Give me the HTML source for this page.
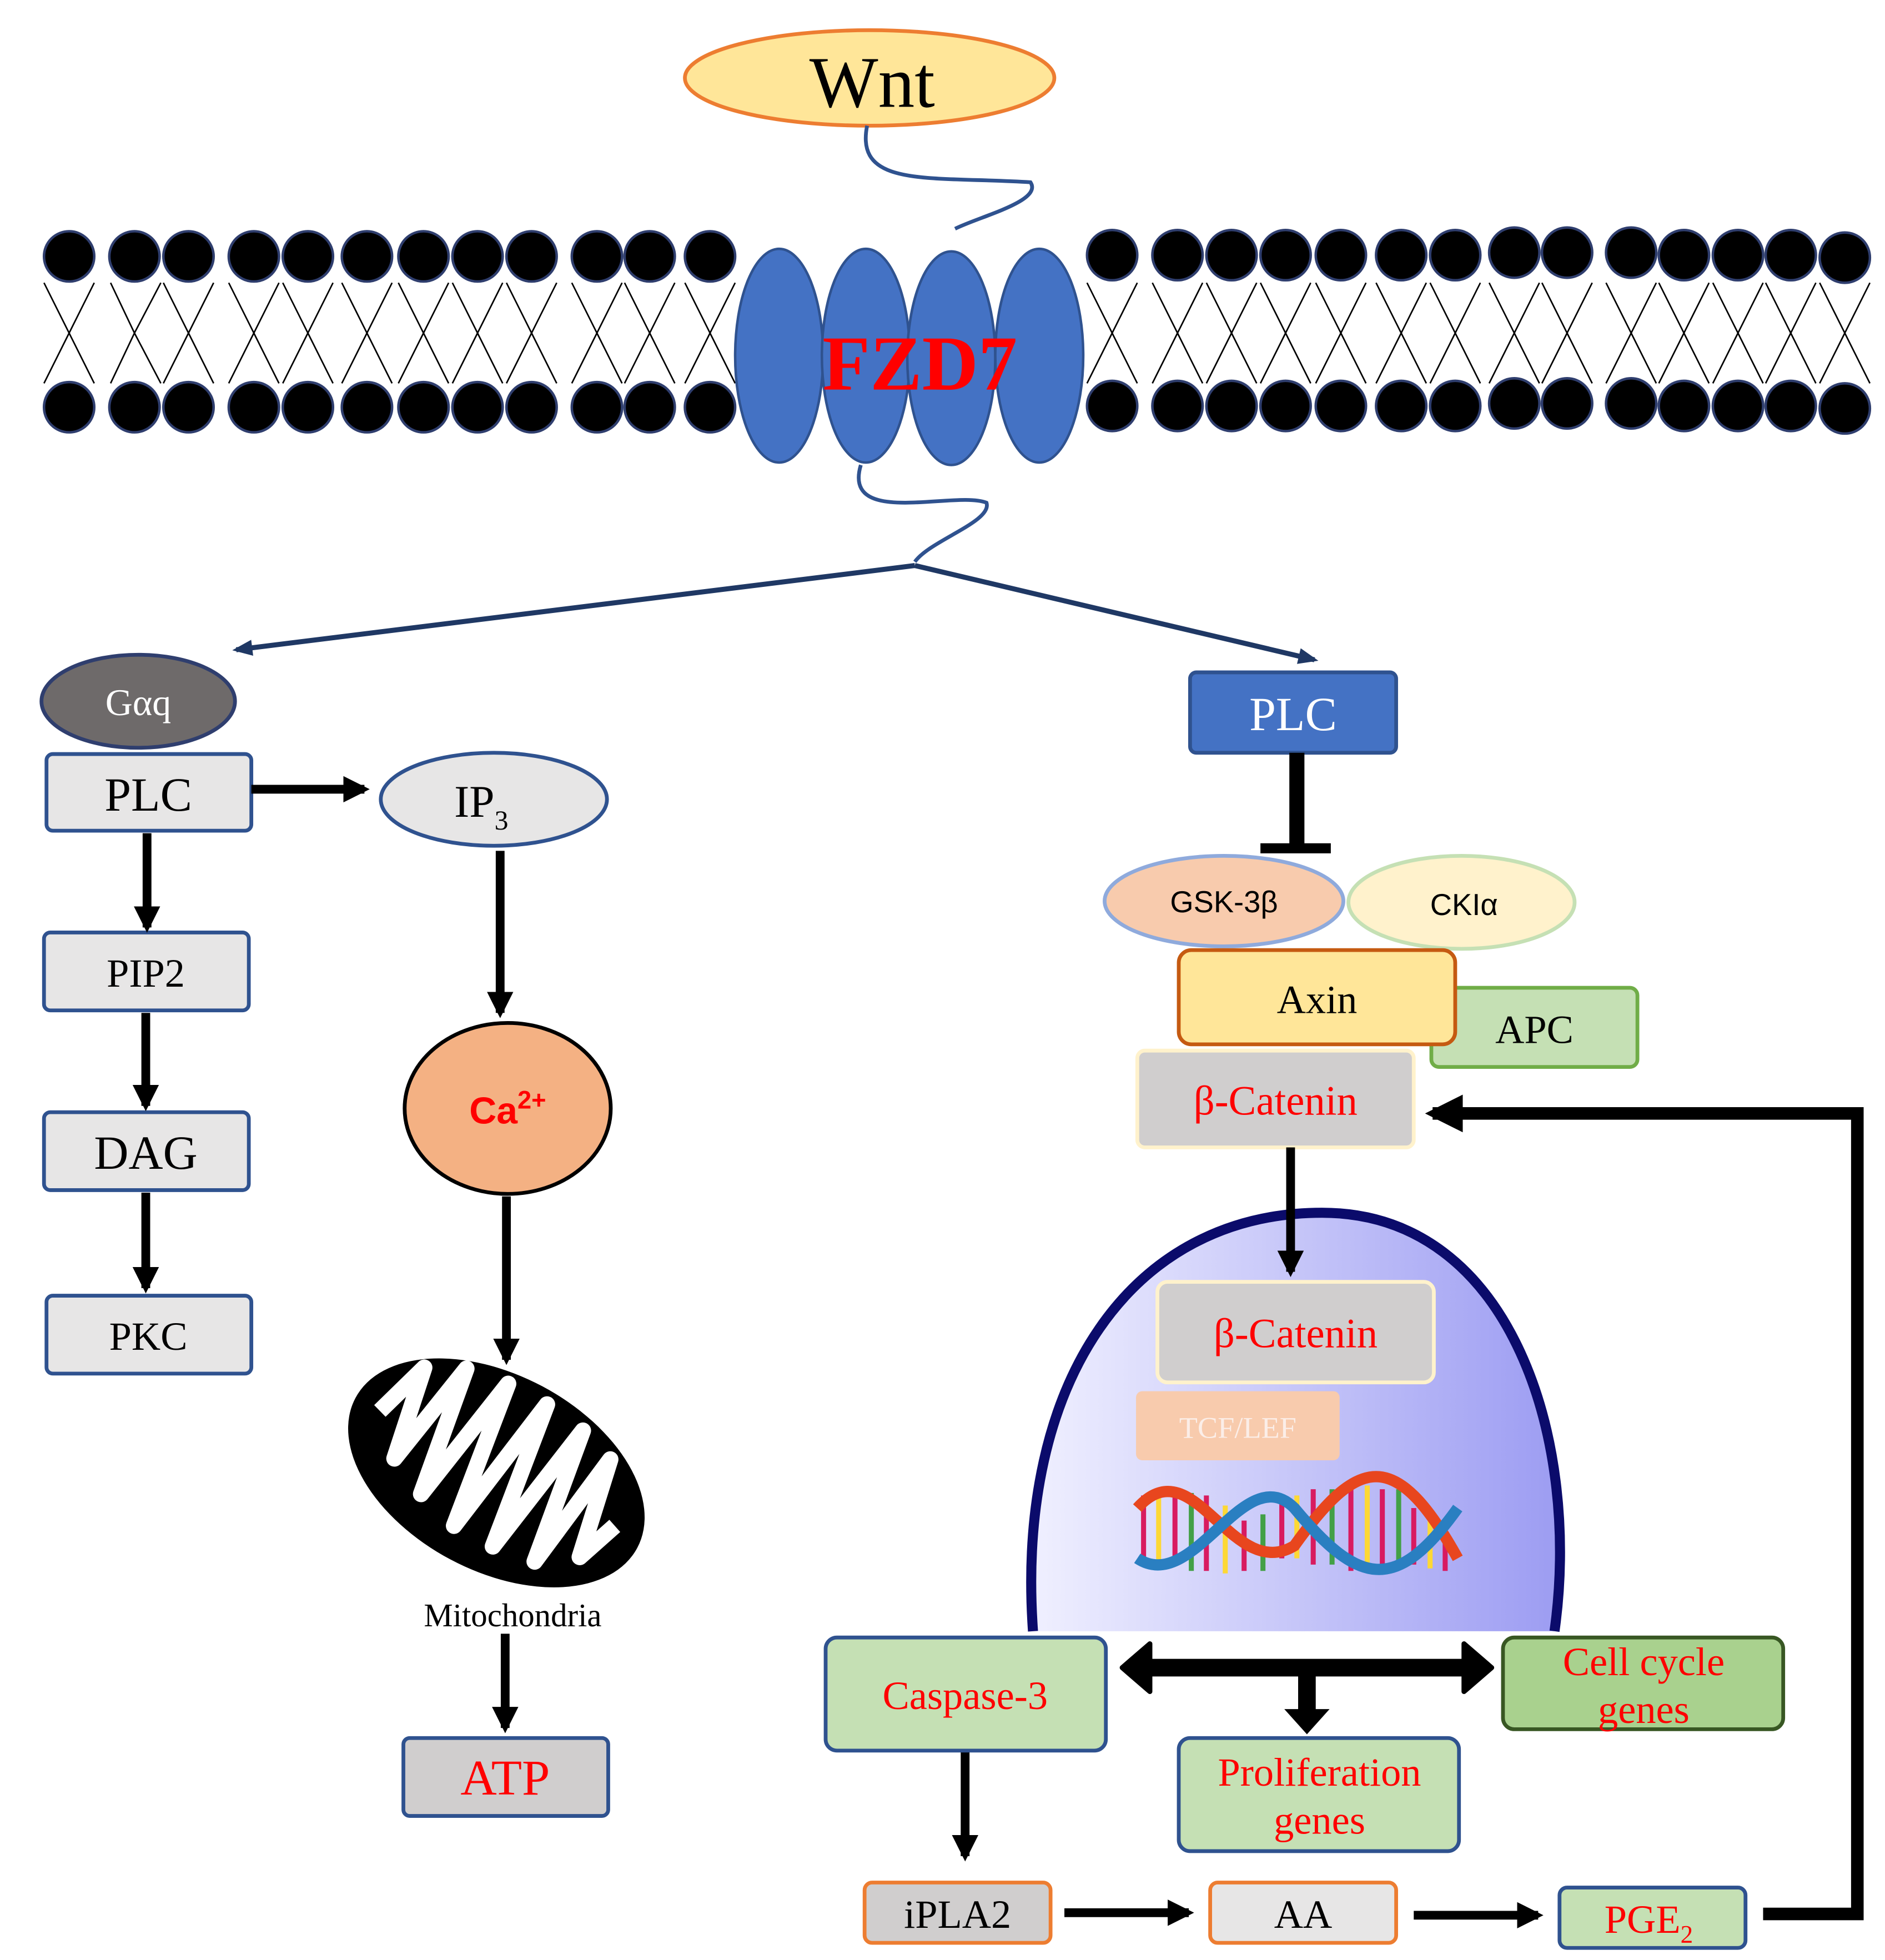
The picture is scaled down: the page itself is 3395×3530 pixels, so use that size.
<!DOCTYPE html>
<html><head><meta charset="utf-8"><style>html,body{margin:0;padding:0;background:#fff}svg{display:block}</style></head>
<body>
<svg width="3395" height="3530" viewBox="0 0 1500 1559.6" xmlns="http://www.w3.org/2000/svg" font-family="'Liberation Serif', serif">
<defs>
<marker id="ah" viewBox="0 0 10 10" refX="8" refY="5" markerWidth="3" markerHeight="3" orient="auto-start-reverse"><path d="M0,0L10,5L0,10z" fill="#000"/></marker>
<marker id="an" viewBox="0 0 10 10" refX="8" refY="5" markerWidth="4" markerHeight="4" orient="auto"><path d="M0,1L10,5L0,9z" fill="#1F3864"/></marker>
<linearGradient id="ng" x1="0" x2="1" y1="0" y2="0"><stop offset="0" stop-color="#f0f0ff"/><stop offset="1" stop-color="#9c9cf2"/></linearGradient>
</defs>
<g id="mem" stroke="#000" stroke-width="1.2" fill="none">
<path d="M35,225L55,265L75,225M88,225L107,265L128,225M130,225L150,265L170,225M182,225L202,265L222,225M225,225L245,265L265,225M272,225L292,265L312,225M317,225L337,265L357,225M360,225L380,265L400,225M403,225L423,265L443,225M455,225L475,265L495,225M497,225L517,265L537,225M545,225L565,265L585,225"/>
<path d="M35,305L55,265L75,305M88,305L107,265L128,305M130,305L150,265L170,305M182,305L202,265L222,305M225,305L245,265L265,305M272,305L292,265L312,305M317,305L337,265L357,305M360,305L380,265L400,305M403,305L423,265L443,305M455,305L475,265L495,305M497,305L517,265L537,305M545,305L565,265L585,305"/>
<path d="M865,225L885,265L905,225M917,225L937,265L957,225M960,225L980,265L1000,225M1003,225L1023,265L1043,225M1047,225L1067,265L1087,225M1095,225L1115,265L1135,225M1138,225L1158,265L1178,225M1185,225L1205,265L1225,225M1227,225L1247,265L1267,225M1278,225L1298,265L1318,225M1320,225L1340,265L1360,225M1363,225L1383,265L1403,225M1405,225L1425,265L1445,225M1448,225L1468,265L1488,225"/>
<path d="M865,305L885,265L905,305M917,305L937,265L957,305M960,305L980,265L1000,305M1003,305L1023,265L1043,305M1047,305L1067,265L1087,305M1095,305L1115,265L1135,305M1138,305L1158,265L1178,305M1185,305L1205,265L1225,305M1227,305L1247,265L1267,305M1278,305L1298,265L1318,305M1320,305L1340,265L1360,305M1363,305L1383,265L1403,305M1405,305L1425,265L1445,305M1448,305L1468,265L1488,305"/>
</g>
<g fill="#000" stroke="#2F3E6E" stroke-width="2">
<circle cx="55" cy="204" r="20"/><circle cx="107" cy="204" r="20"/><circle cx="150" cy="204" r="20"/><circle cx="202" cy="204" r="20"/><circle cx="245" cy="204" r="20"/><circle cx="292" cy="204" r="20"/><circle cx="337" cy="204" r="20"/><circle cx="380" cy="204" r="20"/><circle cx="423" cy="204" r="20"/><circle cx="475" cy="204" r="20"/><circle cx="517" cy="204" r="20"/><circle cx="565" cy="204" r="20"/>
<circle cx="55" cy="324" r="20"/><circle cx="107" cy="324" r="20"/><circle cx="150" cy="324" r="20"/><circle cx="202" cy="324" r="20"/><circle cx="245" cy="324" r="20"/><circle cx="292" cy="324" r="20"/><circle cx="337" cy="324" r="20"/><circle cx="380" cy="324" r="20"/><circle cx="423" cy="324" r="20"/><circle cx="475" cy="324" r="20"/><circle cx="517" cy="324" r="20"/><circle cx="565" cy="324" r="20"/>
<circle cx="885" cy="203" r="20"/><circle cx="937" cy="203" r="20"/><circle cx="980" cy="203" r="20"/><circle cx="1023" cy="203" r="20"/><circle cx="1067" cy="203" r="20"/><circle cx="1115" cy="203" r="20"/><circle cx="1158" cy="203" r="20"/><circle cx="1205" cy="201" r="20"/><circle cx="1247" cy="201" r="20"/><circle cx="1298" cy="201" r="20"/><circle cx="1340" cy="203" r="20"/><circle cx="1383" cy="203" r="20"/><circle cx="1425" cy="203" r="20"/><circle cx="1468" cy="205" r="20"/>
<circle cx="885" cy="323" r="20"/><circle cx="937" cy="323" r="20"/><circle cx="980" cy="323" r="20"/><circle cx="1023" cy="323" r="20"/><circle cx="1067" cy="323" r="20"/><circle cx="1115" cy="323" r="20"/><circle cx="1158" cy="323" r="20"/><circle cx="1205" cy="321" r="20"/><circle cx="1247" cy="321" r="20"/><circle cx="1298" cy="321" r="20"/><circle cx="1340" cy="323" r="20"/><circle cx="1383" cy="323" r="20"/><circle cx="1425" cy="323" r="20"/><circle cx="1468" cy="325" r="20"/>
</g>
<g fill="#4472C4" stroke="#2F528F" stroke-width="2">
<ellipse cx="620" cy="283" rx="35" ry="85"/><ellipse cx="689" cy="283" rx="35" ry="85"/><ellipse cx="757" cy="285" rx="35" ry="85"/><ellipse cx="827" cy="283" rx="35" ry="85"/>
</g>
<text x="732" y="310" font-size="62" font-weight="bold" fill="#FF0000" text-anchor="middle">FZD7</text>
<ellipse cx="692" cy="62" rx="147" ry="38" fill="#FFE699" stroke="#ED7D31" stroke-width="3"/>
<text x="694" y="85" font-size="58" text-anchor="middle">Wnt</text>
<path d="M690,100C680,150 740,140 820,145C830,160 780,172 760,182" fill="none" stroke="#2F528F" stroke-width="3"/>
<path d="M685,370C670,420 760,390 785,400C790,415 740,430 728,447" fill="none" stroke="#2F528F" stroke-width="3"/>
<path d="M728,450L188,517" stroke="#1F3864" stroke-width="4" marker-end="url(#an)"/>
<path d="M728,450L1046,525" stroke="#1F3864" stroke-width="4" marker-end="url(#an)"/>
<ellipse cx="110" cy="558" rx="77" ry="37" fill="#6e6a6a" stroke="#2F3E6E" stroke-width="3"/>
<text x="110" y="569" font-size="30" fill="#fff" text-anchor="middle">Gαq</text>
<g fill="#E7E6E6" stroke="#2F528F" stroke-width="3">
<rect x="37" y="600" width="163" height="61" rx="5"/><rect x="35" y="742" width="163" height="62" rx="5"/><rect x="35" y="885" width="163" height="62" rx="5"/><rect x="37" y="1031" width="163" height="62" rx="5"/>
<ellipse cx="393" cy="636" rx="90" ry="37"/>
</g>
<text x="118" y="645" font-size="38" text-anchor="middle">PLC</text>
<text x="116" y="785" font-size="32" text-anchor="middle">PIP2</text>
<text x="116" y="930" font-size="38" text-anchor="middle">DAG</text>
<text x="118" y="1074" font-size="32" text-anchor="middle">PKC</text>
<text x="383" y="650" font-size="36" text-anchor="middle">IP<tspan font-size="22" dy="10">3</tspan></text>
<g stroke="#000" stroke-width="7" marker-end="url(#ah)">
<path d="M200,628L290,628"/><path d="M117,663L117,738"/><path d="M116,806L116,880"/><path d="M116,949L116,1025"/><path d="M398,677L398,806"/><path d="M403,952L403,1082"/><path d="M402,1300L402,1375"/><path d="M768,1393L768,1477"/>
</g>
<ellipse cx="404" cy="882" rx="82" ry="68" fill="#F4B183" stroke="#000" stroke-width="3"/>
<text x="404" y="894" font-family="'Liberation Sans',sans-serif" font-size="30" font-weight="bold" fill="#FF0000" text-anchor="middle">Ca<tspan font-size="20" dy="-12">2+</tspan></text>
<g transform="rotate(28 395 1172)">
<ellipse cx="395" cy="1172" rx="127" ry="78" fill="#000"/>
<path d="M290,1172 L305,1125 L318,1200 L335,1110 L350,1215 L370,1105 L385,1225 L405,1105 L420,1225 L440,1110 L455,1220 L470,1120 L485,1200 L498,1165" fill="none" stroke="#fff" stroke-width="13" stroke-linejoin="round"/>
</g>
<text x="408" y="1294" font-size="26" text-anchor="middle">Mitochondria</text>
<rect x="321" y="1383" width="163" height="62" rx="5" fill="#D0CECE" stroke="#2F528F" stroke-width="3"/>
<text x="402" y="1428" font-size="40" fill="#FF0000" text-anchor="middle">ATP</text>
<rect x="947" y="535" width="164" height="64" rx="5" fill="#4472C4" stroke="#2F528F" stroke-width="3"/>
<text x="1029" y="581" font-size="38" fill="#fff" text-anchor="middle">PLC</text>
<path d="M1032,599L1032,672" stroke="#000" stroke-width="12"/>
<path d="M1003,675L1059,675" stroke="#000" stroke-width="8"/>
<ellipse cx="974" cy="717" rx="95" ry="36" fill="#F8CBAD" stroke="#8FAADC" stroke-width="3"/>
<ellipse cx="1163" cy="718" rx="90" ry="37" fill="#FFF2CC" stroke="#C5E0B4" stroke-width="3"/>
<text x="974" y="726" font-family="'Liberation Sans',sans-serif" font-size="24" text-anchor="middle">GSK-3β</text>
<text x="1165" y="728" font-family="'Liberation Sans',sans-serif" font-size="24" text-anchor="middle">CKIα</text>
<rect x="1139" y="786" width="164" height="63" rx="6" fill="#C5E0B4" stroke="#70AD47" stroke-width="3"/>
<text x="1221" y="830" font-size="32" text-anchor="middle">APC</text>
<rect x="938" y="756" width="220" height="75" rx="10" fill="#FFE699" stroke="#C55A11" stroke-width="3"/>
<text x="1048" y="806" font-size="32" text-anchor="middle">Axin</text>
<rect x="905" y="836" width="220" height="77" rx="6" fill="#D0CECE" stroke="#FFF2CC" stroke-width="3"/>
<text x="1015" y="887" font-size="33" fill="#FF0000" text-anchor="middle">β-Catenin</text>
<path d="M1403,1523L1478,1523L1478,886L1140,886" fill="none" stroke="#000" stroke-width="10" marker-end="url(#ah)"/>
<path d="M822,1298C808,1100 900,965 1052,965C1205,965 1258,1150 1237,1298Z" fill="url(#ng)"/>
<path d="M822,1298C808,1100 900,965 1052,965C1205,965 1258,1150 1237,1298" fill="none" stroke="#0b0b6b" stroke-width="8"/>
<path d="M1027,913L1027,1012" stroke="#000" stroke-width="7" marker-end="url(#ah)"/>
<rect x="921" y="1020" width="220" height="80" rx="8" fill="#D0CECE" stroke="#FFF2CC" stroke-width="3"/>
<text x="1031" y="1072" font-size="33" fill="#FF0000" text-anchor="middle">β-Catenin</text>
<rect x="904" y="1107" width="162" height="55" rx="5" fill="#F8CBAD"/>
<text x="985" y="1144" font-size="24" fill="#fbeee8" text-anchor="middle">TCF/LEF</text>
<g stroke-width="4">
<path d="M910,1190L910,1240M935,1185L935,1245M960,1190L960,1250M990,1210L990,1250M1020,1195L1020,1240M1045,1185L1045,1245M1075,1185L1075,1250M1100,1185L1100,1245M1125,1200L1125,1245M1150,1215L1150,1250" stroke="#d81b60"/>
<path d="M922,1186L922,1244M975,1198L975,1252M1032,1190L1032,1240M1088,1182L1088,1250M1138,1205L1138,1248" stroke="#fdd835"/>
<path d="M948,1188L948,1250M1005,1205L1005,1250M1060,1185L1060,1245M1113,1185L1113,1248" stroke="#43a047"/>
</g>
<path d="M905,1200C950,1150 980,1260 1030,1230C1080,1160 1110,1150 1160,1240" fill="none" stroke="#e8461e" stroke-width="9"/>
<path d="M905,1240C950,1270 990,1160 1030,1200C1080,1260 1110,1270 1160,1200" fill="none" stroke="#2a7fc1" stroke-width="9"/>
<rect x="657" y="1303" width="223" height="90" rx="9" fill="#C5E0B4" stroke="#2F528F" stroke-width="3"/>
<text x="768" y="1360" font-size="32" fill="#FF0000" text-anchor="middle">Caspase-3</text>
<rect x="1196" y="1303" width="223" height="73" rx="9" fill="#A9D18E" stroke="#385723" stroke-width="3"/>
<text x="1308" y="1333" font-size="32" fill="#FF0000" text-anchor="middle">Cell cycle</text>
<text x="1308" y="1371" font-size="32" fill="#FF0000" text-anchor="middle">genes</text>
<path d="M910,1327L1170,1327" stroke="#000" stroke-width="14"/>
<path d="M893,1327L915,1308L915,1346Z M1187,1327L1165,1308L1165,1346Z" fill="#000" stroke="#000" stroke-width="4" stroke-linejoin="round"/>
<path d="M1040,1327L1040,1362" stroke="#000" stroke-width="14"/>
<path d="M1022,1360L1058,1360L1040,1380Z" fill="#000"/>
<rect x="938" y="1383" width="223" height="90" rx="9" fill="#C5E0B4" stroke="#2F528F" stroke-width="3"/>
<text x="1050" y="1421" font-size="32" fill="#FF0000" text-anchor="middle">Proliferation</text>
<text x="1050" y="1459" font-size="32" fill="#FF0000" text-anchor="middle">genes</text>
<rect x="688" y="1498" width="148" height="48" rx="6" fill="#D0CECE" stroke="#ED7D31" stroke-width="3"/>
<text x="762" y="1534" font-size="32" text-anchor="middle">iPLA2</text>
<rect x="963" y="1498" width="148" height="48" rx="6" fill="#E7E6E6" stroke="#ED7D31" stroke-width="3"/>
<text x="1037" y="1534" font-size="32" text-anchor="middle">AA</text>
<rect x="1241" y="1502" width="148" height="48" rx="6" fill="#C5E0B4" stroke="#2F528F" stroke-width="3"/>
<text x="1312" y="1538" font-size="32" fill="#FF0000" text-anchor="middle">PGE<tspan font-size="20" dy="8">2</tspan></text>
<g stroke="#000" stroke-width="7" marker-end="url(#ah)">
<path d="M847,1522L946,1522"/><path d="M1125,1524L1224,1524"/>
</g>
</svg>
</body></html>
